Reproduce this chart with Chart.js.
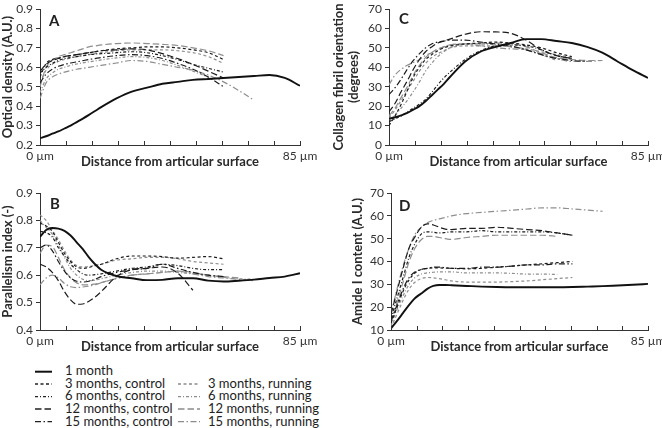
<!DOCTYPE html>
<html><head><meta charset="utf-8">
<script src="https://cdn.jsdelivr.net/npm/chart.js@4/dist/chart.umd.min.js"></script>
<style>
html,body{margin:0;padding:0;background:#fff;}
body{width:662px;height:428px;position:relative;overflow:hidden;font-family:Lato,"Open Sans",sans-serif;color:#222;}
canvas{position:absolute;}
.lt{position:absolute;font-size:13px;line-height:14px;white-space:nowrap;}
.pl{position:absolute;font-weight:bold;font-size:15px;line-height:15px;}
</style></head><body>
<canvas id="cA" width="331" height="172" style="left:0;top:0"></canvas>
<canvas id="cC" width="331" height="172" style="left:331px;top:0"></canvas>
<canvas id="cB" width="331" height="177" style="left:0;top:180px"></canvas>
<canvas id="cD" width="331" height="177" style="left:331px;top:180px"></canvas>
<div class="pl" style="left:49px;top:13px">A</div>
<div class="pl" style="left:399px;top:11px">C</div>
<div class="pl" style="left:50px;top:196px">B</div>
<div class="pl" style="left:399px;top:198px">D</div>
<svg style="position:absolute;left:0;top:360px" width="260" height="68">
 <g stroke-width="1.3">
  <line x1="35" x2="52" y1="11.7" y2="11.7" stroke="#111" stroke-width="2"/>
  <line x1="35" x2="52" y1="24" y2="24" stroke="#222" stroke-dasharray="3,2.5"/>
  <line x1="35" x2="52" y1="36.7" y2="36.7" stroke="#222" stroke-dasharray="3,2,1,2"/>
  <line x1="35" x2="52" y1="49" y2="49" stroke="#222" stroke-dasharray="6.5,3"/>
  <line x1="35" x2="52" y1="61.7" y2="61.7" stroke="#222" stroke-dasharray="6,2.5,1.5,2.5"/>
  <line x1="178" x2="200" y1="24" y2="24" stroke="#8c8c8c" stroke-dasharray="3,2.5"/>
  <line x1="178" x2="200" y1="36.7" y2="36.7" stroke="#8c8c8c" stroke-dasharray="3,2,1,2"/>
  <line x1="178" x2="200" y1="49" y2="49" stroke="#8c8c8c" stroke-dasharray="6.5,3"/>
  <line x1="178" x2="200" y1="61.7" y2="61.7" stroke="#8c8c8c" stroke-dasharray="6,2.5,1.5,2.5"/>
 </g>
</svg>
<div class="lt" style="left:65px;top:363px">1 month</div>
<div class="lt" style="left:65px;top:375.5px">3 months, control</div>
<div class="lt" style="left:65px;top:388px">6 months, control</div>
<div class="lt" style="left:65px;top:401px">12 months, control</div>
<div class="lt" style="left:65px;top:413.5px">15 months, control</div>
<div class="lt" style="left:208px;top:375.5px">3 months, running</div>
<div class="lt" style="left:208px;top:388px">6 months, running</div>
<div class="lt" style="left:208px;top:401px">12 months, running</div>
<div class="lt" style="left:208px;top:413.5px">15 months, running</div>
<script>
// Distance from articular surface (µm)
const X = [0,2,4,6,8,10,12,14,16,18,20,25,30,35,40,45,50,55,60,65,70,75,80,85];
const seriesNames = ['1 month','3 months, control','6 months, control','12 months, control','15 months, control','3 months, running','6 months, running','12 months, running','15 months, running'];

// Panel A: Optical density (A.U.)
const A_m1  = [0.235,0.245,0.258,0.27,0.285,0.30,0.318,0.336,0.355,0.375,0.395,0.44,0.475,0.495,0.515,0.525,0.535,0.54,0.545,0.55,0.555,0.56,0.545,0.505];
const A_c3  = [0.55,0.62,0.64,0.648,0.655,0.66,0.665,0.67,0.675,0.68,0.685,0.695,0.70,0.705,0.705,0.70,0.69,0.675,0.64];
const A_c6  = [0.57,0.60,0.62,0.635,0.645,0.65,0.655,0.66,0.665,0.668,0.67,0.675,0.68,0.675,0.66,0.64,0.615,0.595,0.575];
const A_c12 = [0.58,0.615,0.635,0.645,0.655,0.66,0.665,0.67,0.675,0.68,0.685,0.69,0.695,0.69,0.67,0.645,0.615,0.58,0.545];
const A_c15 = [0.52,0.565,0.59,0.605,0.615,0.622,0.628,0.634,0.64,0.645,0.65,0.66,0.665,0.66,0.645,0.62,0.59,0.55,0.50];
const A_r3  = [0.52,0.585,0.615,0.63,0.64,0.648,0.655,0.66,0.665,0.67,0.675,0.685,0.69,0.69,0.69,0.685,0.675,0.655,0.62];
const A_r6  = [0.47,0.54,0.57,0.59,0.60,0.61,0.617,0.623,0.628,0.633,0.638,0.648,0.655,0.65,0.635,0.61,0.58,0.55];
const A_r12 = [0.50,0.60,0.635,0.655,0.665,0.675,0.685,0.695,0.705,0.71,0.715,0.722,0.725,0.722,0.718,0.712,0.70,0.685,0.66];
const A_r15 = [0.44,0.52,0.55,0.565,0.575,0.583,0.59,0.595,0.60,0.605,0.61,0.622,0.635,0.63,0.615,0.60,0.585,0.56,0.525,0.48,0.43];
const A_ticks = [0.2,0.3,0.4,0.5,0.6,0.7,0.8,0.9];

// Panel B: Parallelism index (-)
const B_m1  = [0.74,0.765,0.772,0.77,0.762,0.745,0.72,0.695,0.665,0.64,0.62,0.597,0.589,0.582,0.583,0.589,0.589,0.58,0.577,0.58,0.584,0.59,0.595,0.607];
const B_c3  = [0.79,0.78,0.76,0.72,0.68,0.65,0.63,0.625,0.628,0.635,0.64,0.66,0.67,0.67,0.668,0.662,0.665,0.668,0.66];
const B_c6  = [0.76,0.755,0.74,0.70,0.67,0.64,0.62,0.605,0.60,0.602,0.605,0.615,0.625,0.63,0.64,0.635,0.625,0.62,0.62];
const B_c12 = [0.64,0.63,0.61,0.58,0.54,0.51,0.494,0.495,0.505,0.52,0.54,0.595,0.62,0.625,0.63,0.608,0.545];
const B_c15 = [0.70,0.71,0.69,0.65,0.615,0.59,0.578,0.575,0.578,0.585,0.595,0.61,0.62,0.625,0.64,0.625,0.61,0.60,0.595];
const B_r3  = [0.82,0.80,0.765,0.73,0.69,0.655,0.635,0.63,0.632,0.636,0.64,0.655,0.66,0.665,0.665,0.66,0.65,0.645,0.64];
const B_r6  = [0.80,0.775,0.75,0.71,0.665,0.625,0.60,0.585,0.58,0.582,0.587,0.60,0.61,0.615,0.615,0.61,0.605,0.60,0.592,0.587,0.585];
const B_r12 = [0.68,0.71,0.705,0.665,0.62,0.59,0.572,0.565,0.565,0.568,0.573,0.588,0.60,0.605,0.61,0.615,0.61,0.60,0.595,0.59];
const B_r15 = [0.565,0.59,0.60,0.59,0.57,0.558,0.555,0.557,0.56,0.565,0.572,0.588,0.60,0.605,0.61,0.615,0.605,0.595,0.59,0.585,0.58];
const B_ticks = [0.4,0.5,0.6,0.7,0.8,0.9];

// Panel C: Collagen fibril orientation (degrees)
const C_m1  = [13.5,14.3,15.3,16.5,18.2,20,22.5,25.5,28.5,31.5,35,43,48,50.5,52.5,54.5,54.5,53.5,52.5,50.5,47.5,43,38.5,34.5];
const C_c3  = [10,15,21,28,35,40,44,46.5,48.5,50,51,52,52.5,53,52.5,51.5,50,47.5,45.5];
const C_c6  = [12,13.5,15,17,19,21,23.5,27,31,34.5,37.5,44,48.5,51,51.5,51,49,46,44.5];
const C_c12 = [17,21.5,27.5,33,39,44,48,50.5,52.5,53.5,54.5,57,58.3,58.2,57.5,54,49,46,44.5];
const C_c15 = [26,29.5,34,39,43.5,47,50,52,53,53.5,54,54,53,52,51,49,46.5,44.5,43.5,43];
const C_r3  = [14,18,23,28,33,38,42,45,47,48.5,50,51,51,51,50.5,49.5,48,46.5,45];
const C_r6  = [13,15.5,19,23,27.5,32.5,38,42,45.5,48,50,52,52,51.5,50.5,49,46.5,43.5];
const C_r12 = [15,19,24.5,30,36,41,45,47.5,49.5,50.5,51.5,52,52,52.5,52,50.5,47.5,45,44,43.5,43.5];
const C_r15 = [31,36,39,41,42.5,44,46,47.5,49,50.5,51.5,52,51,50,49.5,49,47,44.5,43,43,43.5];
const C_ticks = [0,10,20,30,40,50,60,70];

// Panel D: Amide I content (A.U.)
const D_m1  = [10.7,14,17.5,21,24,26,28,29.3,29.7,29.7,29.6,29.3,29,28.8,28.7,28.7,28.7,28.7,28.8,29,29.2,29.5,29.8,30.2];
const D_c3  = [13,20,27,32,35,36.5,37,37.2,37.2,37.1,37,36.8,37,37.5,38,38.5,39,39.5,40];
const D_c6  = [15,24,33,42,48,52,53,52.8,52.5,52.7,53,53,53.5,53,53,53,53,52.5,51.5];
const D_c12 = [17,27,37,46,51,55,56.5,56,55,54.2,54,54.5,54.5,55,54.5,54,53.5,52.5,51.5];
const D_c15 = [14,21,28,33,35.5,36.5,37,37.5,37.5,37.3,37,37,37.5,37.5,38,38.5,38.5,39,39];
const D_r3  = [11,17,23,28,31,32.5,33,32.8,32.5,32,31.5,31,31,31,31.2,31.5,32,32.5,33];
const D_r6  = [12,19,25,30,33,34.5,35,35.3,35.5,35.5,35.5,35,35,35,34.8,34.5,34.5,34.3];
const D_r12 = [13,22,31,40,46,49.5,51,51,50.5,50,49.7,50.5,51,51.5,51.5,51.5,51.5,51];
const D_r15 = [17,28,38,46,52,55,57,58,58.7,59.3,60,61,61.5,62,62.5,63,63.5,63.5,63,62.5,62];
const D_ticks = [10,20,30,40,50,60,70];

const BLACK = '#1c1c1c', GRAY = '#8e8e8e';
const styles = [
  {c:'#111', w:1.9, d:[]},
  {c:BLACK, w:1.2, d:[3,2.5]},
  {c:BLACK, w:1.2, d:[3,2,1,2]},
  {c:BLACK, w:1.2, d:[6.5,3]},
  {c:BLACK, w:1.2, d:[6,2.5,1.5,2.5]},
  {c:GRAY, w:1.2, d:[3,2.5]},
  {c:GRAY, w:1.2, d:[3,2,1,2]},
  {c:GRAY, w:1.2, d:[6.5,3]},
  {c:GRAY, w:1.2, d:[6,2.5,1.5,2.5]}
];

const inwardTicks = {
  id:'inwardTicks',
  afterDraw(chart){
    const xs = chart.scales.x, ctx = chart.ctx;
    ctx.save(); ctx.strokeStyle='#333'; ctx.lineWidth=1;
    xs.ticks.forEach(t=>{
      const px = Math.round(xs.getPixelForValue(t.value))+0.5;
      ctx.beginPath(); ctx.moveTo(px, xs.top); ctx.lineTo(px, xs.top-4); ctx.stroke();
    });
    ctx.restore();
  }
};

Chart.defaults.font.family = 'Lato, "Open Sans", sans-serif';
Chart.defaults.color = '#333';

function panel(id, seriesList, ticksArr, dec, yTitle, opt){
  const data = {
    labels: X,
    datasets: seriesList.map((ys,i)=>({
      label: seriesNames[i],
      data: X.map((x,k)=> (k < ys.length ? {x:x, y:ys[k]} : {x:x, y:null})),
      borderColor: styles[i].c,
      borderWidth: styles[i].w,
      borderDash: styles[i].d,
      pointRadius: 0,
      fill: false,
      cubicInterpolationMode: 'monotone',
      spanGaps: false,
      order: i===0 ? 0 : (i<5 ? 1 : 2)
    }))
  };
  return new Chart(document.getElementById(id), {
    type: 'line',
    data,
    options: {
      responsive: false, animation: false,
      layout: {padding: {left:0, right:opt.padR, top:opt.padT, bottom:0}},
      plugins: {legend:{display:false}, tooltip:{enabled:false}},
      scales: {
        x: {
          type:'linear', min:0, max:85,
          afterBuildTicks(s){ s.ticks = [0,8.5,17,25.5,34,42.5,51,59.5,68,76.5,85].map(v=>({value:v})); },
          ticks: {autoSkip:false, maxRotation:0, padding:4, font:{size:12},
            callback: v => (v===0 ? '0 µm' : (Math.abs(v-85)<0.01 ? '85 µm' : ''))},
          grid: {display:false, drawTicks:false},
          border: {display:true, color:'#333', width:1},
          title: {display:true, text:'Distance from articular surface', font:{size:13, weight:'bold'}, color:'#2a2a2a', padding:{top:0,bottom:2}},
          afterFit(s){ s.height = opt.xH; s.paddingLeft = 0; s.paddingRight = 0; }
        },
        y: {
          min: ticksArr[0], max: ticksArr[ticksArr.length-1],
          afterBuildTicks(s){ s.ticks = ticksArr.map(v=>({value:v})); },
          ticks: {padding:3, font:{size:12}, callback: v => v.toFixed(dec)},
          grid: {drawOnChartArea:false, drawTicks:true, tickLength:4, color:'#333'},
          border: {display:true, color:'#333', width:1},
          title: {display:true, text:yTitle, font:{size:13, weight:'bold', lineHeight:1.15}, color:'#2a2a2a', padding:{top:opt.tPad, bottom:0}},
          afterFit(s){ s.width = opt.yW; s.paddingTop = 0; s.paddingBottom = 0; }
        }
      }
    },
    plugins: [inwardTicks]
  });
}

panel('cA', [A_m1,A_c3,A_c6,A_c12,A_c15,A_r3,A_r6,A_r12,A_r15], A_ticks, 1, 'Optical density (A.U.)', {padR:31, padT:9, xH:27, yW:40, tPad:0});
panel('cB', [B_m1,B_c3,B_c6,B_c12,B_c15,B_r3,B_r6,B_r12,B_r15], B_ticks, 1, 'Parallelism index (-)', {padR:31, padT:13, xH:27, yW:40, tPad:0});
panel('cC', [C_m1,C_c3,C_c6,C_c12,C_c15,C_r3,C_r6,C_r12,C_r15], C_ticks, 0, ['Collagen fibril orientation','(degrees)'], {padR:14, padT:9, xH:27, yW:58, tPad:0});
panel('cD', [D_m1,D_c3,D_c6,D_c12,D_c15,D_r3,D_r6,D_r12,D_r15], D_ticks, 0, 'Amide I content (A.U.)', {padR:14, padT:13, xH:27, yW:60, tPad:19});
</script>
</body></html>
